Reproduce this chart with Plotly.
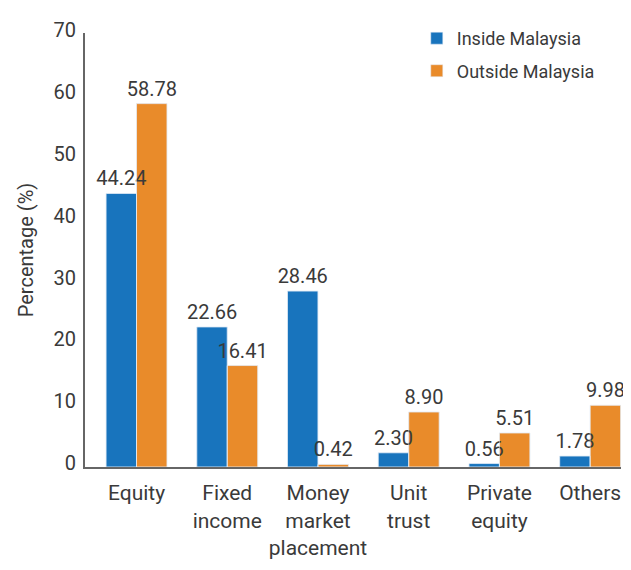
import plotly.graph_objects as go

# Asset allocation data
categories = ['Equity', 'Fixed<br>income', 'Money<br>market<br>placement', 'Unit<br>trust', 'Private<br>equity', 'Others']
inside = [44.24, 22.66, 28.46, 2.30, 0.56, 1.78]
outside = [58.78, 16.41, 0.42, 8.90, 5.51, 9.98]

font = 'Roboto, Liberation Sans, sans-serif'
txt = '#3a3a3a'
bw = 0.336

fig = go.Figure()
# bars
fig.add_trace(go.Bar(x=categories, y=inside, name='Inside Malaysia', marker_color='#1874bd',
                     width=bw, offset=-bw, legend='legend'))
fig.add_trace(go.Bar(x=categories, y=outside, name='Outside Malaysia', marker_color='#e98b2a',
                     width=bw, offset=0, legend='legend2'))
# value labels on invisible copies so they sit above every bar
for vals, off in [(inside, -bw), (outside, 0)]:
    fig.add_trace(go.Bar(x=categories, y=vals, width=bw, offset=off, showlegend=False,
                         marker_color='rgba(0,0,0,0)', hoverinfo='skip',
                         text=[f'{v:.2f}' for v in vals], textposition='outside',
                         constraintext='none', cliponaxis=False,
                         textfont=dict(size=20, color=txt)))

leg = dict(x=0.619, xanchor='left', yanchor='top', font=dict(size=18, color=txt),
           bgcolor='rgba(0,0,0,0)')

fig.update_layout(
    width=623, height=562,
    margin=dict(l=77, r=10, t=11, b=91),
    plot_bgcolor='white', paper_bgcolor='white',
    font=dict(family=font, size=19, color=txt),
    barmode='overlay',
    showlegend=True,
    legend=dict(leg, y=1.03),
    legend2=dict(leg, y=0.955),
    yaxis=dict(range=[0, 70.2], dtick=10, showgrid=False, showline=True, linecolor='#666666',
               linewidth=2, ticks='', tickfont=dict(size=20), ticklabelstandoff=3,
               ticklabelshift=-4, zeroline=False,
               title=dict(text='Percentage (%)', font=dict(size=20), standoff=15)),
    xaxis=dict(range=[-0.568, 5.34], showline=True, linecolor='#666666', linewidth=2,
               ticks='', tickangle=0, tickfont=dict(size=21), ticklabelstandoff=6),
)

fig.write_html('out.html')
